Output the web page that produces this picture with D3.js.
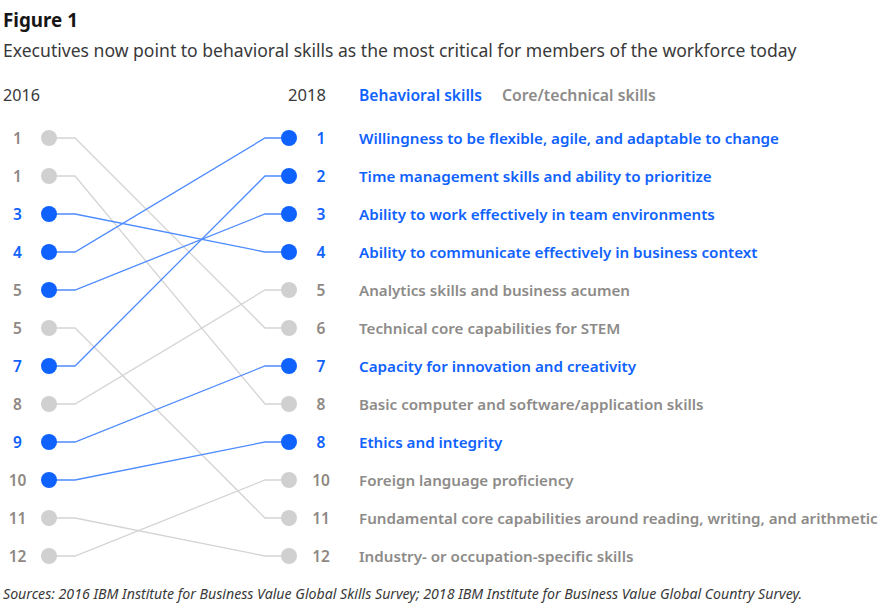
<!DOCTYPE html>
<html><head><meta charset="utf-8">
<script src="https://cdn.jsdelivr.net/npm/d3@7"></script>
<style>
body{margin:0;background:#fff;}
svg{display:block;font-family:"Noto Sans",sans-serif;}
</style></head>
<body><svg id="c" width="884" height="608"></svg>
<script>
const skills = [
  "Willingness to be flexible, agile, and adaptable to change",
  "Time management skills and ability to prioritize",
  "Ability to work effectively in team environments",
  "Ability to communicate effectively in business context",
  "Analytics skills and business acumen",
  "Technical core capabilities for STEM",
  "Capacity for innovation and creativity",
  "Basic computer and software/application skills",
  "Ethics and integrity",
  "Foreign language proficiency",
  "Fundamental core capabilities around reading, writing, and arithmetic",
  "Industry- or occupation-specific skills"
];
const groups = ["B","B","B","B","C","C","B","C","B","C","C","C"];
const rank2018 = [1,2,3,4,5,6,7,8,8,10,11,12];
const rank2016 = [4,7,5,3,8,1,9,1,10,12,5,11];
// whether the 2016 rank number is shown in blue (as in the source figure)
const blue2016Number = [true,true,false,true,false,false,true,false,false,false,false,false];
const legendLabels = ["Behavioral skills","Core/technical skills"];
const yearLabels = ["2016","2018"];

const BLUE="#0f62fe", BLUE_LINE="#4d8bff", GRAY_DOT="#d0d0d0", GRAY_LINE="#d4d4d4", GRAY_NUM="#8f8883", GRAY_TXT="#8d8b89";

const data = skills.map((s,i)=>({label:s,group:groups[i],r18:rank2018[i],r16:rank2016[i],row18:i,b16:blue2016Number[i]}));
const leftOrder = data.slice().sort((a,b)=>a.r16-b.r16 || a.row18-b.row18);
leftOrder.forEach((d,i)=>d.row16=i);

const svg = d3.select("#c");
const y = d3.scaleLinear().domain([0,11]).range([138,556]);
const xL = 49, xR = 289, xLk = 75, xRk = 265;
const col = d=>d.group==="B"?BLUE:null;

function fit(sel, target){
  const w = sel.node().getComputedTextLength();
  const fs = parseFloat(sel.attr("font-size"));
  sel.attr("font-size", (fs*target/w).toFixed(2));
}

svg.append("text").attr("x",3).attr("y",27).attr("font-size",20).attr("font-weight",700).attr("fill","#161616").text("Figure 1").call(fit,75);
svg.append("text").attr("x",3).attr("y",57).attr("font-size",16).attr("fill","#393939")
  .text("Executives now point to behavioral skills as the most critical for members of the workforce today").call(fit,794);
svg.append("text").attr("x",3).attr("y",101).attr("font-size",15).attr("fill","#393939").text(yearLabels[0]).call(fit,37);
svg.append("text").attr("x",326).attr("y",101).attr("font-size",15).attr("text-anchor","end").attr("fill","#393939").text(yearLabels[1]).call(fit,38);
svg.append("text").attr("x",359).attr("y",101).attr("font-size",15).attr("font-weight",600).attr("fill",BLUE).text(legendLabels[0]).call(fit,123);
svg.append("text").attr("x",502).attr("y",101).attr("font-size",15).attr("font-weight",600).attr("fill",GRAY_TXT).text(legendLabels[1]).call(fit,154);

const ordered = data.slice().sort((a,b)=>(a.group==="B")-(b.group==="B"));
svg.append("g").selectAll("path").data(ordered).join("path")
  .attr("fill","none")
  .attr("stroke",d=>d.group==="B"?BLUE_LINE:GRAY_LINE)
  .attr("stroke-width",1.3)
  .attr("d",d=>`M${xL},${y(d.row16)}H${xLk}L${xRk},${y(d.row18)}H${xR}`);

svg.append("g").selectAll("circle").data(data).join("circle")
  .attr("cx",xL).attr("cy",d=>y(d.row16)).attr("r",8).attr("fill",d=>col(d)||GRAY_DOT);
svg.append("g").selectAll("circle").data(data).join("circle")
  .attr("cx",xR).attr("cy",d=>y(d.row18)).attr("r",8).attr("fill",d=>col(d)||GRAY_DOT);

svg.append("g").selectAll("text").data(data).join("text")
  .attr("x",17.5).attr("y",d=>y(d.row16)+5.5).attr("text-anchor","middle")
  .attr("font-size",15.5).attr("font-weight",600).attr("fill",d=>d.b16?BLUE:GRAY_NUM).text(d=>d.r16);
svg.append("g").selectAll("text").data(data).join("text")
  .attr("x",321).attr("y",d=>y(d.row18)+5.5).attr("text-anchor","middle")
  .attr("font-size",15.5).attr("font-weight",600).attr("fill",d=>col(d)||GRAY_NUM).text(d=>d.r18);

const lbl = svg.append("g").selectAll("text").data(data).join("text")
  .attr("x",359).attr("y",d=>y(d.row18)+5.5)
  .attr("font-size",15).attr("font-weight",600).attr("fill",d=>col(d)||GRAY_TXT).text(d=>d.label);
{
  const n = lbl.filter((d,i)=>i===0).node();
  const w = n.getComputedTextLength();
  lbl.attr("font-size",(15*420/w).toFixed(2));
}

svg.append("text").attr("x",3).attr("y",599).attr("font-size",13).attr("font-style","italic").attr("fill","#393939")
  .text("Sources: 2016 IBM Institute for Business Value Global Skills Survey; 2018 IBM Institute for Business Value Global Country Survey.").call(fit,800);
</script></body></html>
